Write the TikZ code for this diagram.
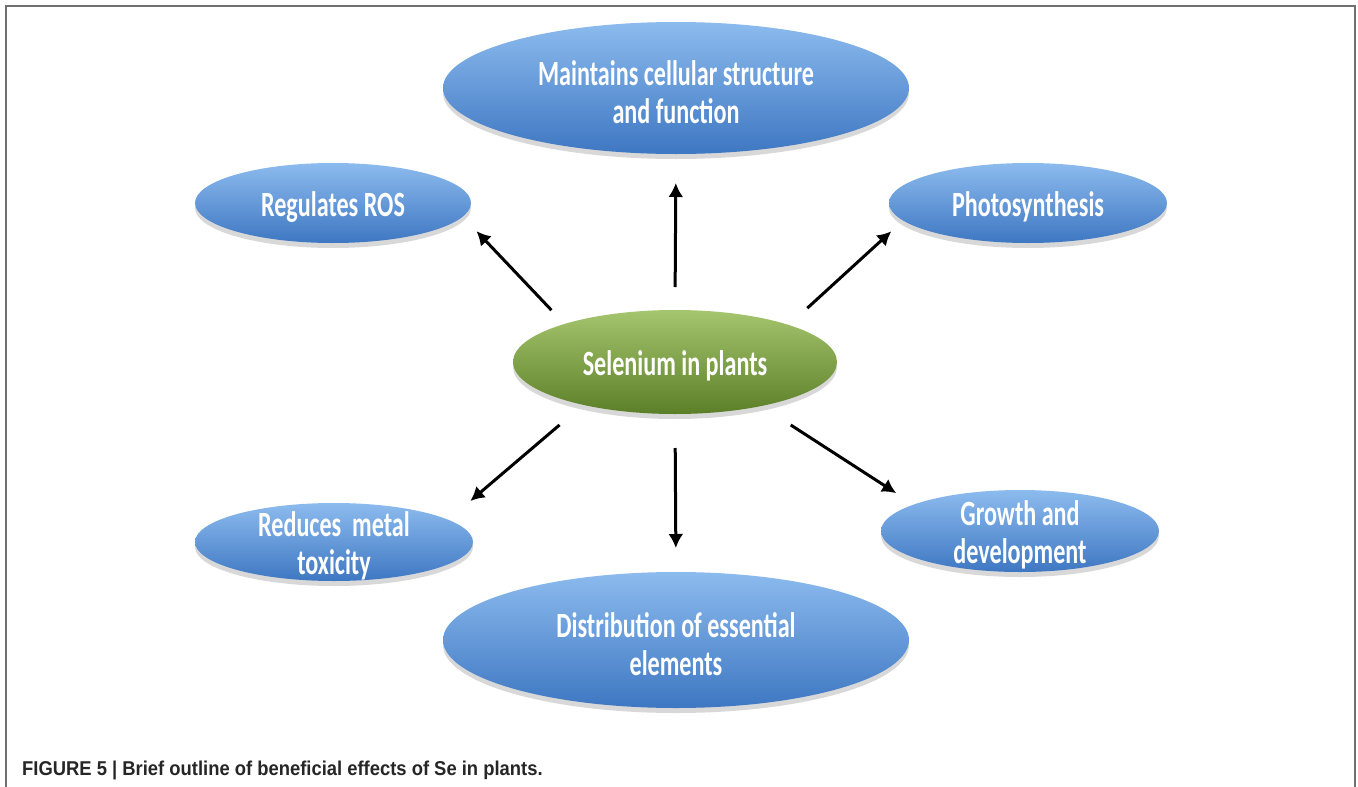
\documentclass[tikz,border=0pt]{standalone}
\usepackage{fontspec}
\newfontfamily\calib[FakeStretch=0.68]{Carlito}
\newfontfamily\capfont[FakeStretch=0.92]{Liberation Sans}
\usetikzlibrary{shapes.geometric,shadows,arrows.meta}
\definecolor{bL}{HTML}{8CBBEE}
\definecolor{bM}{HTML}{5A98DF}
\definecolor{bD}{HTML}{3E77C2}
\definecolor{gL}{HTML}{A5C56E}
\definecolor{gM}{HTML}{79A23C}
\definecolor{gD}{HTML}{5B7F28}
\definecolor{frameC}{HTML}{707070}
\tikzset{
  blob/.style={ellipse, inner sep=0pt, outer sep=0pt, draw=none,
    top color=bL, middle color=bM, bottom color=bD,
    drop shadow={opacity=0.3, shadow xshift=0pt, shadow yshift=-5pt}},
  gblob/.style={blob, top color=gL, middle color=gM, bottom color=gD},
  lbl/.style={text=white, font=\calib\bfseries\fontsize{35.5}{38.5}\selectfont,
    align=center, inner sep=0pt, yshift=-4pt},
  arr/.style={line width=3pt, -{Latex[length=14pt,width=15pt]}},
  frameline/.style={draw=frameC, line width=2.5pt}
}
\begin{document}
\begin{tikzpicture}[x=1pt,y=-1pt]
\useasboundingbox (0,0) rectangle (1358,787);
\fill[white] (0,0) rectangle (1358,787);
\draw[frameline] (6,787) -- (6,6) -- (1355,6) -- (1355,787);

\node[blob, minimum width=466pt, minimum height=132pt,
  label={[lbl]center:Maintains cellular structure\\and function}] (top) at (676,88) {};
\node[blob, minimum width=276pt, minimum height=80pt,
  label={[lbl]center:Regulates ROS}] (ros) at (333,203) {};
\node[blob, minimum width=278pt, minimum height=80pt,
  label={[lbl]center:Photosynthesis}] (pho) at (1028,203) {};
\node[gblob, minimum width=324pt, minimum height=104pt,
  label={[lbl]center:Selenium in plants}] (sel) at (675,362) {};
\node[blob, minimum width=278pt, minimum height=78pt,
  label={[lbl]center:Reduces~~metal\\toxicity}] (red) at (334,542) {};
\node[blob, minimum width=278pt, minimum height=82pt,
  label={[lbl]center:Growth and\\development}] (gro) at (1020,531) {};
\node[blob, minimum width=466pt, minimum height=136pt,
  label={[lbl]center:Distribution of essential\\elements}] (dis) at (676,640) {};

\draw[arr, shorten <=23pt, shorten >=29pt] (sel.north) -- (top.south);
\draw[arr, shorten <=19pt, shorten >=20pt] (sel.161) -- (ros.-6);
\draw[arr, shorten <=25pt, shorten >=16pt] (sel.18) -- (pho.188);
\draw[arr, shorten <=31pt, shorten >=29pt] (sel.205) -- (red.11);
\draw[arr, shorten <=34pt, shorten >=24pt] (sel.south) -- (dis.north);
\draw[arr, shorten <=35pt, shorten >=21pt] (sel.-27) -- (gro.166);

\node[anchor=base west, inner sep=0pt, text=black!85,
  font=\capfont\bfseries\fontsize{20}{24}\selectfont] (cap) at (22,775)
  {FIGURE 5 | Brief outline of beneficial effects of Se in plants.};
\end{tikzpicture}
\end{document}
